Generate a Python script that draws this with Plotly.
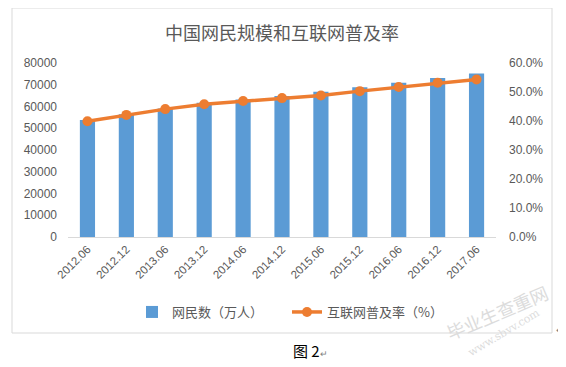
import plotly.graph_objects as go

categories = ["2012.06", "2012.12", "2013.06", "2013.12", "2014.06", "2014.12",
              "2015.06", "2015.12", "2016.06", "2016.12", "2017.06"]
netizens = [53760, 56400, 59056, 61758, 63200, 64875, 66769, 68826, 70958, 73125, 75116]
rate = [0.399, 0.421, 0.441, 0.458, 0.469, 0.479, 0.488, 0.503, 0.517, 0.532, 0.543]
left_ticks = [0, 10000, 20000, 30000, 40000, 50000, 60000, 70000, 80000]
right_ticks = [0, 0.1, 0.2, 0.3, 0.4, 0.5, 0.6]

FONT = "Liberation Sans, Noto Sans CJK SC, sans-serif"
CJK = "Noto Sans CJK SC, sans-serif"
GRAY = "#595959"

# page body has an 8px default margin: work in screen coords, offset by 8
O = 8
W, H = 566 - O, 367 - O
L, R, T, B = 68, 496, 63, 237          # plot area in screen pixels
px = lambda x: (x - L) / (R - L)
py = lambda y: (B - y) / (B - T)

fig = go.Figure()
fig.add_trace(go.Bar(x=categories, y=netizens, name="网民数（万人）",
                     marker=dict(color="#5B9BD5", line=dict(width=0)), yaxis="y"))
fig.add_trace(go.Scatter(x=categories, y=rate, name="互联网普及率（%）", yaxis="y2",
                         mode="lines+markers",
                         line=dict(color="#ED7D31", width=3.5),
                         marker=dict(color="#ED7D31", size=10)))

fig.update_layout(
    width=W, height=H,
    margin=dict(l=L - O, r=566 - R, t=T - O, b=367 - B, autoexpand=False),
    paper_bgcolor="white", plot_bgcolor="white",
    font=dict(family=FONT, color=GRAY, size=12),
    bargap=0.61,
    showlegend=True,
    legend=dict(orientation="h", x=px(132), y=py(312), xanchor="left", yanchor="middle",
                font=dict(size=13, color=GRAY, family=CJK), itemwidth=30, traceorder="normal",
                entrywidth=110, bgcolor="rgba(0,0,0,0)"),
    xaxis=dict(type="category", tickangle=-45, showgrid=False, showline=True,
               linecolor="#D9D9D9", linewidth=1, ticks="", tickfont=dict(size=11.5, color=GRAY),
               range=[-0.5, len(categories) - 0.5], zeroline=False, automargin=False),
    yaxis=dict(range=[0, 80000], tickvals=left_ticks, tickformat="d", showgrid=False,
               zeroline=False, showline=False, ticks="", tickfont=dict(size=12, color=GRAY),
               ticklabelstandoff=10, automargin=False),
    yaxis2=dict(range=[0, 0.6], tickvals=right_ticks, tickformat=".1%", overlaying="y",
                side="right", showgrid=False, zeroline=False, showline=False, ticks="",
                tickfont=dict(size=12, color=GRAY), ticklabelstandoff=12, automargin=False),
    shapes=[dict(type="rect", xref="paper", yref="paper",
                 x0=px(12), x1=px(552), y0=py(333), y1=py(8),
                 line=dict(color="#D9D9D9", width=1), fillcolor="rgba(0,0,0,0)", layer="below")],
    annotations=[
        dict(text="中国网民规模和互联网普及率", xref="paper", yref="paper",
             x=px(282), y=py(32), showarrow=False, xanchor="center", yanchor="middle",
             font=dict(size=18, color=GRAY, family=CJK)),
        dict(text="图 2<span style='font-size:9px;color:#808080'>↵</span>", xref="paper", yref="paper",
             x=px(291), y=py(350), showarrow=False, xanchor="left", yanchor="middle",
             font=dict(size=15, color="black", family=CJK)),
        dict(text="↵", xref="paper", yref="paper",
             x=px(554), y=py(330), showarrow=False, xanchor="left", yanchor="middle",
             font=dict(size=9, color="#808080", family="DejaVu Sans")),
        dict(text="毕业生查重网", xref="paper", yref="paper",
             x=px(497), y=py(312), showarrow=False, xanchor="center", yanchor="middle",
             textangle=-23, font=dict(size=18, color="#DCDCDC", family=CJK)),
        dict(text="www.sbvv.com", xref="paper", yref="paper",
             x=px(504), y=py(332), showarrow=False, xanchor="center", yanchor="middle",
             textangle=-31, font=dict(size=11, color="#DCDCDC", family="DejaVu Serif")),
    ],
)

fig.write_html("out.html")
